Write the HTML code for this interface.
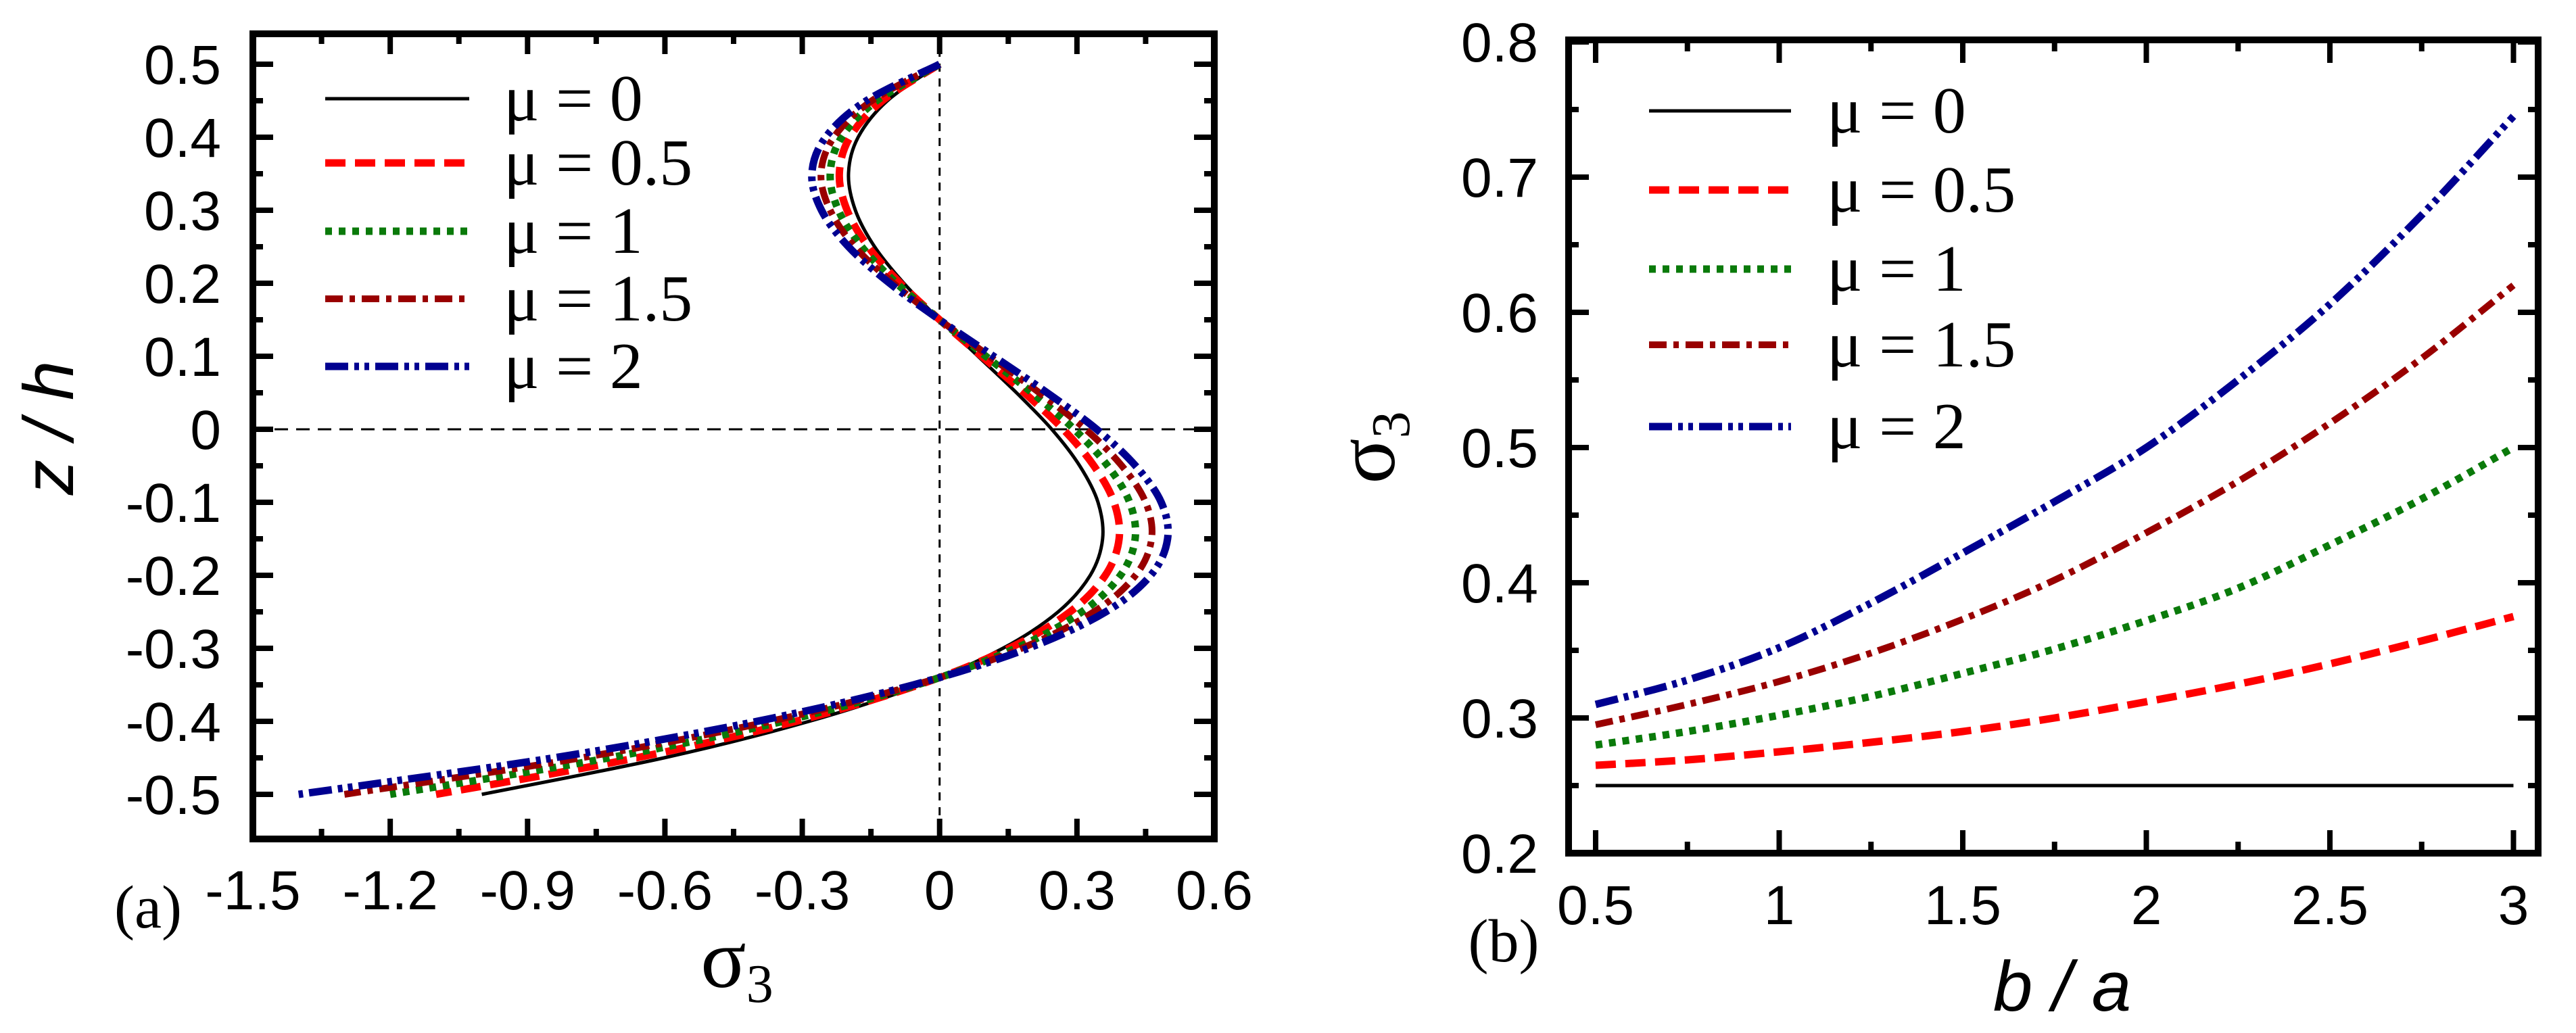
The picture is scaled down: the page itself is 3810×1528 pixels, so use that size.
<!DOCTYPE html>
<html><head><meta charset="utf-8"><style>
html,body{margin:0;padding:0;background:#fff;width:3810px;height:1528px;overflow:hidden}
svg text{font-family:"Liberation Sans",sans-serif;fill:#000}
</style></head><body>
<svg id="fig" width="3810" height="1528" viewBox="0 0 3810 1528" xmlns="http://www.w3.org/2000/svg"></svg>
<script>
// ---- Panel (a) data ----
const zVals = [0.5,0.45,0.4,0.35,0.3,0.25,0.2,0.15,0.1,0.05,0,-0.05,-0.1,-0.15,-0.2,-0.25,-0.3,-0.35,-0.4,-0.45,-0.5];
const aMu0  = [0,-0.114,-0.178,-0.199,-0.184,-0.142,-0.078,0,0.084,0.168,0.245,0.306,0.346,0.356,0.329,0.259,0.138,-0.041,-0.285,-0.602,-1.0];
const aMu05 = [0,-0.125,-0.196,-0.219,-0.202,-0.156,-0.086,0,0.092,0.185,0.270,0.337,0.381,0.392,0.362,0.285,0.152,-0.045,-0.314,-0.662,-1.1];
const aMu1  = [0,-0.137,-0.214,-0.239,-0.221,-0.170,-0.094,0,0.101,0.202,0.294,0.367,0.415,0.427,0.395,0.311,0.166,-0.049,-0.342,-0.722,-1.2];
const aMu15 = [0,-0.148,-0.231,-0.259,-0.239,-0.185,-0.101,0,0.109,0.218,0.319,0.398,0.450,0.463,0.428,0.337,0.179,-0.053,-0.371,-0.783,-1.3];
const aMu2  = [0,-0.160,-0.249,-0.279,-0.258,-0.199,-0.109,0,0.118,0.235,0.343,0.428,0.484,0.498,0.461,0.363,0.193,-0.057,-0.399,-0.843,-1.4];
const aXTicks = ["-1.5","-1.2","-0.9","-0.6","-0.3","0","0.3","0.6"];
const aYTicks = ["0.5","0.4","0.3","0.2","0.1","0","-0.1","-0.2","-0.3","-0.4","-0.5"];
// ---- Panel (b) data ----
const baVals = [0.5,0.75,1,1.25,1.5,1.75,2,2.25,2.5,2.75,3];
const bMu0  = [0.25,0.25,0.25,0.25,0.25,0.25,0.25,0.25,0.25,0.25,0.25];
const bMu05 = [0.265,0.269,0.275,0.282,0.29,0.30,0.312,0.325,0.34,0.357,0.375];
const bMu1  = [0.28,0.29,0.302,0.316,0.333,0.351,0.372,0.396,0.428,0.462,0.50];
const bMu15 = [0.295,0.31,0.327,0.348,0.373,0.402,0.437,0.475,0.518,0.566,0.62];
const bMu2  = [0.31,0.328,0.352,0.385,0.422,0.46,0.5,0.55,0.606,0.672,0.745];
const bXTicks = ["0.5","1","1.5","2","2.5","3"];
const bYTicks = ["0.2","0.3","0.4","0.5","0.6","0.7","0.8"];
const legendLabels = ["μ = 0","μ = 0.5","μ = 1","μ = 1.5","μ = 2"];

const NS="http://www.w3.org/2000/svg";
const svg=document.getElementById('fig');
function mk(tag,attrs,parent){const e=document.createElementNS(NS,tag);for(const k in attrs)e.setAttribute(k,attrs[k]);(parent||svg).appendChild(e);return e;}
function smooth(P){let d="M"+P[0][0].toFixed(1)+","+P[0][1].toFixed(1);
 for(let i=0;i<P.length-1;i++){const p0=P[Math.max(0,i-1)],p1=P[i],p2=P[i+1],p3=P[Math.min(P.length-1,i+2)];
  const c1=[p1[0]+(p2[0]-p0[0])/6,p1[1]+(p2[1]-p0[1])/6],c2=[p2[0]-(p3[0]-p1[0])/6,p2[1]-(p3[1]-p1[1])/6];
  d+=" C"+c1[0].toFixed(1)+","+c1[1].toFixed(1)+" "+c2[0].toFixed(1)+","+c2[1].toFixed(1)+" "+p2[0].toFixed(1)+","+p2[1].toFixed(1);}
 return d;}
const styles=[
 {stroke:"#000",w:5,dash:""},
 {stroke:"#ff0000",w:11,dash:"30 14"},
 {stroke:"#0a7a0a",w:11,dash:"10 10"},
 {stroke:"#990000",w:10,dash:"26 10 8 10"},
 {stroke:"#000090",w:11,dash:"34 9 7 8 7 9"}
];

// ---------- Panel (a) ----------
const A={x0:374,x1:1796,y0:50,y1:1241,xmin:-1.5,xmax:0.6};
const aY=v=>95+(0.5-v)*1080;
const aX=v=>A.x0+(v-A.xmin)/(A.xmax-A.xmin)*(A.x1-A.x0);
const gA=mk('g',{});


let rl=mk('line',{x1:A.x0,x2:A.x1,y1:aY(0),y2:aY(0),stroke:"#000","stroke-width":3,"stroke-dasharray":"20 12"},gA);

rl=mk('line',{x1:aX(0),x2:aX(0),y1:A.y0,y2:A.y1,stroke:"#000","stroke-width":3,"stroke-dasharray":"12 10"},gA);

for(let i=0;i<=20;i++){const v=0.5-i*0.05;const y=aY(v);const L=(i%2==0)?30:15;
 const t1=mk('line',{x1:A.x0,x2:A.x0+L,y1:y,y2:y,stroke:"#000","stroke-width":8},gA);
 
 const t2=mk('line',{x1:A.x1,x2:A.x1-L,y1:y,y2:y,stroke:"#000","stroke-width":8},gA);
 }
for(let i=0;i<=14;i++){const v=-1.5+i*0.15;const x=aX(v);const L=(i%2==0)?30:15;
 const t1=mk('line',{x1:x,x2:x,y1:A.y1,y2:A.y1-L,stroke:"#000","stroke-width":8},gA);
 
 const t2=mk('line',{x1:x,x2:x,y1:A.y0,y2:A.y0+L,stroke:"#000","stroke-width":8},gA);
 }
aYTicks.forEach(s=>{const t=mk('text',{x:327,y:aY(parseFloat(s))+29,"font-size":82,"text-anchor":"end"},gA);t.textContent=s;
 });
aXTicks.forEach(s=>{const t=mk('text',{x:aX(parseFloat(s)),y:1345,"font-size":82,"text-anchor":"middle"},gA);t.textContent=s;
 });
[aMu0,aMu05,aMu1,aMu15,aMu2].forEach((arr,k)=>{const st=styles[k];
 const P=arr.map((v,i)=>[aX(v),aY(zVals[i])]);
 const p=mk('path',{d:smooth(P),fill:"none",stroke:st.stroke,"stroke-width":st.w,"stroke-dasharray":st.dash},gA);
 });
let fr=mk('rect',{x:A.x0,y:A.y0,width:A.x1-A.x0,height:A.y1-A.y0,fill:"none",stroke:"#000","stroke-width":10},gA);

const aLegY=[146,241,342,442,542];
legendLabels.forEach((s,k)=>{const st=styles[k];
 const l=mk('line',{x1:481,x2:694,y1:aLegY[k],y2:aLegY[k],stroke:st.stroke,"stroke-width":st.w,"stroke-dasharray":st.dash},gA);
 
 const t=mk('text',{x:745,y:aLegY[k]+32,"font-size":98,style:"font-family:'Liberation Serif',serif"},gA);t.textContent=s;
 });
let tt=mk('text',{x:0,y:0,"font-size":105,"font-style":"italic","text-anchor":"middle",transform:"translate(108,633) rotate(-90)"},gA);tt.textContent="z / h";

tt=mk('text',{x:1090,y:1460,"font-size":125,"text-anchor":"middle",style:"font-family:'Liberation Serif',serif"},gA);tt.innerHTML='σ<tspan font-size="80" dy="22">3</tspan>';

tt=mk('text',{x:219,y:1372,"font-size":90,"text-anchor":"middle",style:"font-family:'Liberation Serif',serif"},gA);tt.textContent="(a)";


// ---------- Panel (b) ----------
const B={x0:2320,x1:3754,y0:59,y1:1262};
const bX=v=>2360+(v-0.5)*543;
const bY=v=>1262-(v-0.2)*2000;
const gB=mk('g',{});


for(let i=0;i<=12;i++){const v=0.2+i*0.05;const y=bY(v);const L=(i%2==0)?30:15;
 const t1=mk('line',{x1:B.x0,x2:B.x0+L,y1:y,y2:y,stroke:"#000","stroke-width":8},gB);
 
 const t2=mk('line',{x1:B.x1,x2:B.x1-L,y1:y,y2:y,stroke:"#000","stroke-width":8},gB);
 }
for(let i=0;i<=10;i++){const v=0.5+i*0.25;const x=bX(v);const L=(i%2==0)?34:17;
 const t1=mk('line',{x1:x,x2:x,y1:B.y1,y2:B.y1-L,stroke:"#000","stroke-width":8},gB);
 
 const t2=mk('line',{x1:x,x2:x,y1:B.y0,y2:B.y0+L,stroke:"#000","stroke-width":8},gB);
 }
bYTicks.forEach(s=>{const t=mk('text',{x:2275,y:bY(parseFloat(s))+29,"font-size":82,"text-anchor":"end"},gB);t.textContent=s;
 });
bXTicks.forEach(s=>{const t=mk('text',{x:bX(parseFloat(s)),y:1367,"font-size":82,"text-anchor":"middle"},gB);t.textContent=s;
 });
[bMu0,bMu05,bMu1,bMu15,bMu2].forEach((arr,k)=>{const st=styles[k];
 const P=arr.map((v,i)=>[bX(baVals[i]),bY(v)]);
 const p=mk('path',{d:smooth(P),fill:"none",stroke:st.stroke,"stroke-width":st.w,"stroke-dasharray":st.dash},gB);
 });
fr=mk('rect',{x:B.x0,y:B.y0,width:B.x1-B.x0,height:B.y1-B.y0,fill:"none",stroke:"#000","stroke-width":10},gB);

const bLegY=[164,281,398,510,631];
legendLabels.forEach((s,k)=>{const st=styles[k];
 const l=mk('line',{x1:2439,x2:2649,y1:bLegY[k],y2:bLegY[k],stroke:st.stroke,"stroke-width":st.w,"stroke-dasharray":st.dash},gB);
 
 const t=mk('text',{x:2702,y:bLegY[k]+32,"font-size":98,style:"font-family:'Liberation Serif',serif"},gB);t.textContent=s;
 });
tt=mk('text',{x:0,y:0,"font-size":125,"text-anchor":"middle",transform:"translate(2062,662) rotate(-90)",style:"font-family:'Liberation Serif',serif"},gB);tt.innerHTML='σ<tspan font-size="80" dy="22">3</tspan>';

tt=mk('text',{x:3050,y:1495,"font-size":105,"font-style":"italic","text-anchor":"middle"},gB);tt.textContent="b / a";

tt=mk('text',{x:2224,y:1422,"font-size":90,"text-anchor":"middle",style:"font-family:'Liberation Serif',serif"},gB);tt.textContent="(b)";

</script>
</body></html>
